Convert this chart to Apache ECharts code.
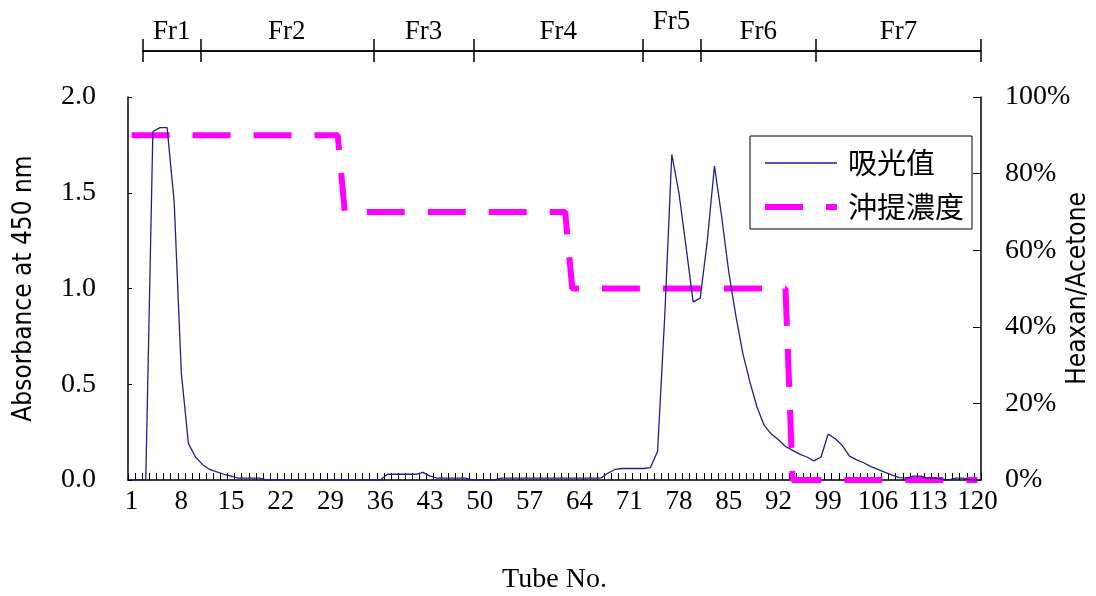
<!DOCTYPE html>
<html>
<head>
<meta charset="utf-8">
<script src="https://cdn.jsdelivr.net/npm/echarts@6/dist/echarts.min.js"></script>
<style>
  html, body { margin: 0; padding: 0; background: #fff; }
  #chart { width: 1096px; height: 596px; }
</style>
</head>
<body>
<div id="chart"></div>
<script>
// tube numbers 1..120
var tubes = [];
for (var i = 1; i <= 120; i++) tubes.push(String(i));

// absorbance at 450 nm, one value per tube
var absorbance = [
  0, 0, 0, 1.82, 1.84, 1.84, 1.45, 0.56, 0.19, 0.12,
  0.08, 0.055, 0.042, 0.03, 0.02, 0.01, 0.01, 0.01, 0.01, 0,
  0, 0, 0, 0, 0, 0, 0, 0, 0, 0,
  0, 0, 0, 0, 0, 0, 0.03, 0.03, 0.03, 0.03,
  0.03, 0.04, 0.02, 0.01, 0.01, 0.01, 0.01, 0.01, 0, 0,
  0, 0, 0.01, 0.01, 0.01, 0.01, 0.01, 0.01, 0.01, 0.01,
  0.01, 0.01, 0.01, 0.01, 0.01, 0.01, 0.01, 0.035, 0.055, 0.06,
  0.06, 0.06, 0.06, 0.065, 0.15, 0.85, 1.70, 1.50, 1.22, 0.93,
  0.95, 1.25, 1.64, 1.38, 1.09, 0.86, 0.66, 0.51, 0.38, 0.285,
  0.24, 0.21, 0.175, 0.155, 0.135, 0.12, 0.10, 0.12, 0.24, 0.215,
  0.18, 0.125, 0.105, 0.09, 0.07, 0.055, 0.04, 0.025, 0.012, 0.01,
  0.02, 0.02, 0.01, 0.01, 0.005, 0, 0.01, 0.01, 0, 0
];

// Hexane/Acetone elution concentration (%)
var elution = [
  90, 90, 90, 90, 90, 90, 90, 90, 90, 90,
  90, 90, 90, 90, 90, 90, 90, 90, 90, 90,
  90, 90, 90, 90, 90, 90, 90, 90, 90, 90,
  70, 70, 70, 70, 70, 70, 70, 70, 70, 70,
  70, 70, 70, 70, 70, 70, 70, 70, 70, 70,
  70, 70, 70, 70, 70, 70, 70, 70, 70, 70,
  70, 70, 50, 50, 50, 50, 50, 50, 50, 50,
  50, 50, 50, 50, 50, 50, 50, 50, 50, 50,
  50, 50, 50, 50, 50, 50, 50, 50, 50, 50,
  50, 50, 50, 0, 0, 0, 0, 0, 0, 0,
  0, 0, 0, 0, 0, 0, 0, 0, 0, 0,
  0, 0, 0, 0, 0, 0, 0, 0, 0, 0
];

// fraction boundaries (in tube units) and names
var fracBounds = [2.07, 10.13, 34.5, 48.6, 72.4, 80.5, 96.8, 120];
var fracNames = ['Fr1', 'Fr2', 'Fr3', 'Fr4', 'Fr5', 'Fr6', 'Fr7'];
var fracMids = [];
for (var k = 0; k < fracNames.length; k++) fracMids.push((fracBounds[k] + fracBounds[k + 1]) / 2);

var serif = '"Liberation Serif", "Times New Roman", serif';
var narrow = '"Liberation Sans Narrow", "DejaVu Sans Condensed", "Liberation Sans", sans-serif';

var myChart = echarts.init(document.getElementById('chart'));

var fracAxisBase = {
  type: 'value',
  gridIndex: 1,
  min: fracBounds[0],
  max: 120,
  axisLine: { show: true, lineStyle: { color: '#000', width: 1.5 } },
  splitLine: { show: false }
};

option = {
  animation: false,
  backgroundColor: '#fff',
  grid: [
    { left: 128, right: 115, top: 97, bottom: 116, outerBoundsMode: 'none' },
    { left: 143, right: 115, top: 51, height: 0, outerBoundsMode: 'none' }
  ],
  legend: {
    orient: 'vertical',
    left: 750,
    top: 136,
    padding: [11, 8, 6, 12],
    itemGap: 12,
    itemWidth: 72,
    itemHeight: 14,
    borderColor: '#000',
    borderWidth: 1,
    backgroundColor: '#fff',
    itemStyle: { opacity: 0 },
    textStyle: {
      fontFamily: '"Noto Sans CJK TC", sans-serif',
      fontSize: 29,
      lineHeight: 32,
      color: '#000',
      padding: [0, 0, 0, 6]
    },
    data: [
      { name: '吸光值', lineStyle: { width: 1.3 } },
      { name: '沖提濃度', lineStyle: { width: 6 } }
    ]
  },
  xAxis: [
    {
      type: 'category',
      gridIndex: 0,
      data: tubes,
      boundaryGap: true,
      name: 'Tube No.',
      nameLocation: 'middle',
      nameGap: 86,
      nameMoveOverlap: false,
      nameTextStyle: { fontFamily: serif, fontSize: 28, color: '#000' },
      axisLine: { lineStyle: { color: '#000', width: 1.5 } },
      axisTick: { show: true, interval: 0, inside: true, length: 7, lineStyle: { color: '#000' } },
      axisLabel: { interval: 6, margin: 8, fontFamily: serif, fontSize: 27, color: '#000' }
    },
    Object.assign({}, fracAxisBase, {
      position: 'top',
      axisTick: { show: true, length: 12, customValues: fracBounds, lineStyle: { color: '#000', width: 1.5 } },
      axisLabel: {
        show: true,
        margin: 6,
        customValues: fracMids,
        fontFamily: serif,
        fontSize: 27,
        color: '#000',
        formatter: function (v) {
          var best = 0;
          for (var j = 0; j < fracMids.length; j++) {
            if (Math.abs(fracMids[j] - v) < Math.abs(fracMids[best] - v)) best = j;
          }
          return best === 4 ? '{hi|' + fracNames[best] + '}' : fracNames[best];
        },
        rich: { hi: { fontFamily: serif, fontSize: 27, color: '#000', padding: [0, 0, 10, 0] } }
      }
    }),
    Object.assign({}, fracAxisBase, {
      position: 'bottom',
      axisTick: { show: true, length: 11, customValues: fracBounds, lineStyle: { color: '#000', width: 1.5 } },
      axisLabel: { show: false }
    })
  ],
  yAxis: [
    {
      type: 'value',
      gridIndex: 0,
      min: 0,
      max: 2,
      interval: 0.5,
      name: 'Absorbance at 450 nm',
      nameLocation: 'middle',
      nameGap: 91,
      nameMoveOverlap: false,
      nameTextStyle: { fontFamily: narrow, fontSize: 26, color: '#000' },
      axisLine: { show: true, lineStyle: { color: '#000', width: 1.5 } },
      axisTick: { show: true, inside: true, length: 4, lineStyle: { color: '#000' } },
      axisLabel: {
        margin: 32,
        fontFamily: serif,
        fontSize: 28,
        color: '#000',
        formatter: function (v) { return v.toFixed(1); }
      },
      splitLine: { show: false }
    },
    {
      type: 'value',
      gridIndex: 0,
      position: 'right',
      min: 0,
      max: 100,
      interval: 20,
      name: 'Heaxan/Acetone',
      nameLocation: 'middle',
      nameGap: 84,
      nameMoveOverlap: false,
      nameTextStyle: { fontFamily: narrow, fontSize: 26, color: '#000' },
      axisLine: { show: true, lineStyle: { color: '#000', width: 1.5 } },
      axisTick: { show: true, inside: true, length: 8, lineStyle: { color: '#000' } },
      axisLabel: { margin: 24, fontFamily: serif, fontSize: 28, color: '#000', formatter: '{value}%' },
      splitLine: { show: false }
    },
    { type: 'value', gridIndex: 1, show: false }
  ],
  series: [
    {
      name: '吸光值',
      type: 'line',
      xAxisIndex: 0,
      yAxisIndex: 0,
      data: absorbance,
      symbol: 'none',
      z: 4,
      lineStyle: { color: '#1E1E90', width: 1.3 },
      itemStyle: { color: '#1E1E90' }
    },
    {
      name: '沖提濃度',
      type: 'line',
      xAxisIndex: 0,
      yAxisIndex: 1,
      data: elution,
      symbol: 'none',
      z: 3,
      lineStyle: { color: '#FF00FF', width: 6, type: [38, 23] },
      itemStyle: { color: '#FF00FF' }
    }
  ]
};

myChart.setOption(option);
</script>
</body>
</html>
